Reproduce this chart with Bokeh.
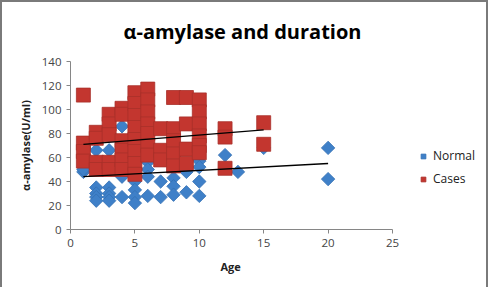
import math
from bokeh.plotting import figure
from bokeh.models import (ColumnDataSource, Legend, LegendItem, Title,
                          FixedTicker, Range1d)
from bokeh.embed import file_html
from bokeh.resources import INLINE

# Normal group: age (years) and alpha-amylase (U/ml)
normal_age = [1, 1, 2, 2, 2, 2, 2, 3, 3, 3, 3, 3, 4, 4, 4, 5, 5, 5, 5,
              6, 6, 6, 6, 7, 7, 8, 8, 8, 9, 9, 10, 10, 10, 10, 12, 13, 15, 20, 20]
normal_amylase = [48, 50, 66, 35, 30, 27, 24, 66, 35, 30, 27, 24, 86, 44, 27, 40, 33, 27, 22,
                  56, 50, 44, 28, 40, 27, 43, 36, 29, 48, 31, 57, 52, 40, 28, 62, 48, 68, 68, 42]

# Cases group
cases_age = [1, 1, 1, 1,
             2, 2, 2, 2,
             3, 3, 3, 3, 3,
             4, 4, 4, 4, 4, 4,
             5, 5, 5, 5, 5, 5, 5, 5,
             6, 6, 6, 6, 6, 6, 6,
             7, 7, 7,
             8, 8, 8, 8, 8,
             9, 9, 9, 9,
             10, 10, 10, 10, 10, 10,
             12, 12, 12,
             15, 15]
cases_amylase = [112, 72, 65, 57,
                 81, 76, 56, 50,
                 96, 88, 79, 56, 50,
                 101, 74, 66, 58, 50, 96,
                 114, 105, 95, 85, 75, 65, 55, 46,
                 117, 108, 98, 88, 80, 70, 62,
                 84, 66, 58,
                 110, 84, 74, 63, 53,
                 110, 88, 67, 55,
                 108, 98, 88, 78, 70, 64,
                 84, 77, 51,
                 89, 71]

# Linear trend lines (end points)
normal_trend_x = [1, 20]
normal_trend_y = [44, 55]
cases_trend_x = [1, 15]
cases_trend_y = [71, 83]

x_ticks = [0, 5, 10, 15, 20, 25]
y_ticks = [0, 20, 40, 60, 80, 100, 120, 140]

FONT = "Open Sans"
BLUE = "#3f80c8"
RED = "#c3362f"

# The frame runs on to the right edge so the legend can sit inside it;
# the x axis itself is bounded to 0..25.
FRAME_W = 414
AXIS_W = 322
x_end = 25 * FRAME_W / AXIS_W

p = figure(width=484, height=283, output_backend="svg", toolbar_location=None,
           x_range=Range1d(0, x_end), y_range=Range1d(0, 140),
           frame_width=FRAME_W, frame_height=168,
           min_border_left=68, min_border_right=2, min_border_top=55,
           min_border_bottom=60, background_fill_color="white",
           border_fill_color="white")
p.styles = {"border": "2px solid #7a7a7a"}
p.outline_line_color = None
p.grid.visible = False

p.title.text = "α-amylase and duration"
p.title.align = "left"
p.title.offset = 53
p.title.vertical_align = "top"
p.title.text_font = FONT
p.title.text_font_size = "20px"
p.title.text_font_style = "bold"
p.title.text_color = "#000000"
p.title.standoff = 30

for ax in (p.xaxis[0], p.yaxis[0]):
    ax.axis_line_color = "#868686"
    ax.major_tick_line_color = "#868686"
    ax.major_tick_out = 4
    ax.major_tick_in = 0
    ax.minor_tick_line_color = None
    ax.major_label_text_font = FONT
    ax.major_label_text_font_size = "11.5px"
    ax.major_label_text_color = "#444444"
    ax.axis_label_text_font = FONT
    ax.axis_label_text_font_size = "11px"
    ax.axis_label_text_font_style = "bold"
    ax.axis_label_text_color = "#222222"

p.xaxis.ticker = FixedTicker(ticks=x_ticks)
p.yaxis.ticker = FixedTicker(ticks=y_ticks)
p.xaxis.bounds = (0, 25)
p.yaxis.axis_label = "α-amylase(U/ml)"
p.xaxis.major_label_standoff = 5
p.yaxis.major_label_standoff = 5
p.yaxis.axis_label_standoff = 6

# x axis title, centred under the 0..25 span of the axis
p.add_layout(Title(text="Age", align="left", offset=150, text_font=FONT,
                   text_font_size="11px", text_font_style="bold",
                   text_color="#222222", standoff=14), "below")

normal_src = ColumnDataSource(dict(x=normal_age, y=normal_amylase))
cases_src = ColumnDataSource(dict(x=cases_age, y=cases_amylase))

r_normal = p.scatter("x", "y", source=normal_src, marker="square", angle=math.pi / 4,
                     size=9.5, fill_color=BLUE, line_color="#3470b4", line_width=0.8)
r_cases = p.scatter("x", "y", source=cases_src, marker="square", size=14,
                    fill_color=RED, line_color="#a8302a", line_width=0.8)

p.line(normal_trend_x, normal_trend_y, line_color="black", line_width=1.3)
p.line(cases_trend_x, cases_trend_y, line_color="black", line_width=1.3)

legend = Legend(items=[LegendItem(label="Normal", renderers=[r_normal]),
                       LegendItem(label="Cases", renderers=[r_cases])],
                location=(347, 42), border_line_color=None,
                background_fill_alpha=0, label_text_font=FONT,
                label_text_font_size="12px", label_text_color="#222222",
                glyph_width=12, glyph_height=12, spacing=6, label_standoff=4,
                padding=4, margin=0)
p.add_layout(legend)

open("out.html", "w").write(file_html(p, INLINE))
